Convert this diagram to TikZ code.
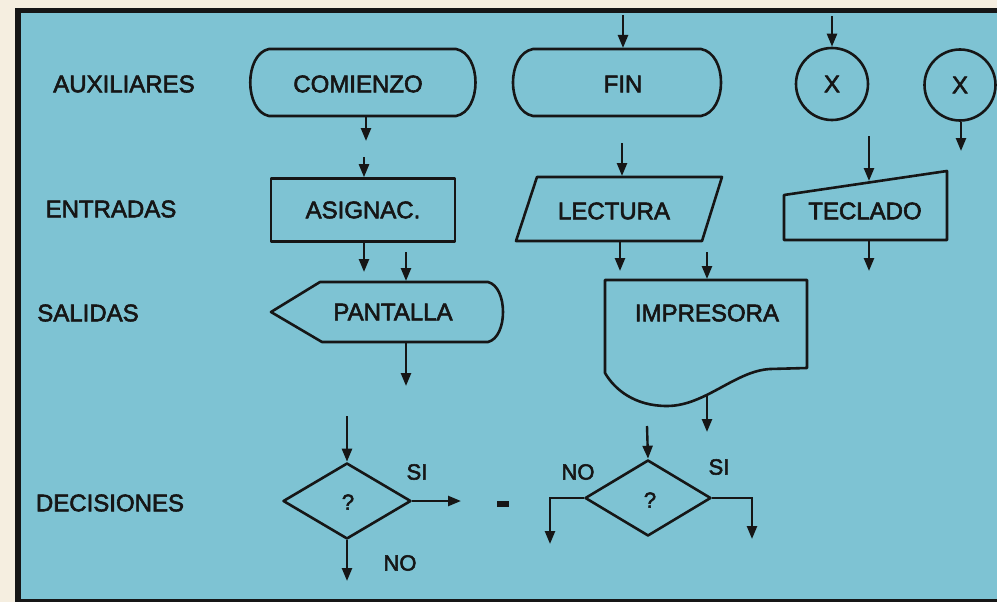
\documentclass[tikz,border=0pt]{standalone}
\usepackage{fontspec}
\setmainfont[FakeBold=2.5]{Liberation Sans}
\usetikzlibrary{arrows.meta,shapes.geometric}
\definecolor{panel}{RGB}{126,195,211}
\definecolor{paper}{RGB}{245,238,224}
\definecolor{ink}{RGB}{22,22,22}
\begin{document}
\begin{tikzpicture}[x=1pt,y=-1pt,
  shp/.style={draw=ink,line width=2.6pt,line join=round},
  lbl/.style={text=ink,font=\fontsize{24}{28}\selectfont,inner sep=0pt},
  sml/.style={text=ink,font=\fontsize{22}{26}\selectfont,inner sep=0pt},
  arr/.style={draw=ink,line width=2.4pt,-{Triangle[length=13pt,width=10pt]}},
]
\useasboundingbox (0,0) rectangle (997,602);
\fill[paper] (0,0) rectangle (997,602);
\fill[panel] (17,10) rectangle (997,601);
\fill[ink] (15,8) rectangle (21,602);
\fill[ink] (15,8) rectangle (997,13);
\fill[ink] (15,599) rectangle (997,602);

% row labels
\node[lbl] (aux) at (124,84) {AUXILIARES};
\node[lbl] (ent) at (111,209) {ENTRADAS};
\node[lbl] (sal) at (88,313) {SALIDAS};
\node[lbl] (dec) at (110,503) {DECISIONES};

% COMIENZO
\draw[shp] (269,49) -- (456,49) .. controls (482,54) and (482,111) .. (456,116)
  -- (269,116) .. controls (244,111) and (244,54) .. (269,49) -- cycle;
\node[lbl] (comienzo) at (358,84) {COMIENZO};
\coordinate (combot) at (366,117);
\coordinate (comend) at (366,141);
\draw[arr] (combot) -- (comend);

% FIN
\draw[shp] (533,49) -- (701,49) .. controls (727.7,54) and (727.7,111) .. (701,116)
  -- (533,116) .. controls (506.3,111) and (506.3,54) .. (533,49) -- cycle;
\node[lbl] (fin) at (623,84) {FIN};
\coordinate (finin) at (623,15);
\coordinate (fintop) at (623,48);
\draw[arr] (finin) -- (fintop);

% connectors X
\node[shp,circle,minimum size=72pt,inner sep=0pt,text=ink,font=\fontsize{24}{28}\selectfont] (x1) at (832,84) {X};
\coordinate (x1in) at (832,16);
\draw[arr] (x1in) -- (x1.north);
\node[shp,circle,minimum size=71pt,inner sep=0pt,text=ink,font=\fontsize{24}{28}\selectfont] (x2) at (960,85) {X};
\coordinate (x2out) at (961,151);
\draw[arr] (x2.south -| x2out) -- (x2out);

% ASIGNAC.
\node[shp,rectangle,minimum width=184pt,minimum height=63pt,inner sep=0pt,text=ink,font=\fontsize{24}{28}\selectfont] (asig) at (363,210) {ASIGNAC.};
\coordinate (asigin) at (364,157);
\draw[arr] (asigin) -- (asigin |- asig.north);
\coordinate (asigout) at (364,272);
\draw[arr] (asig.south -| asigout) -- (asigout);

% LECTURA
\draw[shp] (537,177) -- (722,177) -- (702,241) -- (516,241) -- cycle;
\node[lbl] (lect) at (614,211) {LECTURA};
\coordinate (lectin) at (622,143);
\coordinate (lecttop) at (622,176);
\draw[arr] (lectin) -- (lecttop);
\coordinate (lectbot) at (620,242);
\coordinate (lectout) at (620,271);
\draw[arr] (lectbot) -- (lectout);

% TECLADO
\draw[shp] (784,195) -- (947,171) -- (947,240) -- (784,240) -- cycle;
\node[lbl] (tecl) at (865,211) {TECLADO};
\coordinate (teclin) at (869,136);
\coordinate (tecltop) at (869,181);
\draw[arr] (teclin) -- (tecltop);
\coordinate (teclbot) at (869,241);
\coordinate (teclout) at (869,271);
\draw[arr] (teclbot) -- (teclout);

% PANTALLA
\draw[shp] (271,312) -- (320,282) -- (488,282) .. controls (508,287) and (508,337) .. (488,342)
  -- (322,342) -- cycle;
\node[lbl] (pant) at (393,312) {PANTALLA};
\coordinate (pantin) at (406,252);
\coordinate (panttop) at (406,281);
\draw[arr] (pantin) -- (panttop);
\coordinate (pantbot) at (406,343);
\coordinate (pantout) at (406,386);
\draw[arr] (pantbot) -- (pantout);

% IMPRESORA
\draw[shp] (605,280) -- (807,280) -- (807,368) -- (770,369)
  .. controls (735,371) and (705,406) .. (667,406)
  .. controls (635,406) and (615,390) .. (605,373) -- cycle;
\node[lbl] (impr) at (707,313) {IMPRESORA};
\coordinate (imprin) at (707,252);
\coordinate (imprtop) at (707,279);
\draw[arr] (imprin) -- (imprtop);
\coordinate (imprbot) at (707,396);
\coordinate (improut) at (707,432);
\draw[arr] (imprbot) -- (improut);

% decision 1
\node[shp,diamond,minimum width=128pt,minimum height=76pt,inner sep=0pt] (d1) at (347,501) {};
\node[sml] (q1) at (348,502) {?};
\coordinate (d1in) at (347,416);
\draw[arr] (d1in) -- (d1.north);
\coordinate (d1si) at (461,501);
\draw[arr] (d1.east) -- (d1si);
\coordinate (d1no) at (347,581);
\draw[arr] (d1.south) -- (d1no);
\node[sml] (si1) at (417,472) {SI};
\node[sml] (no1) at (400,563) {NO};

% equivalence mark
\fill[ink] (497,501) rectangle (509,507);

% decision 2
\node[shp,diamond,minimum width=126pt,minimum height=76pt,inner sep=0pt] (d2) at (648,498) {};
\node[sml] (q2) at (650,500) {?};
\coordinate (d2in) at (647,426);
\draw[arr] (d2in) -- (d2.north);
\coordinate (d2no) at (550,544);
\draw[arr] (d2.west) -| (d2no);
\coordinate (d2si) at (752,539);
\draw[arr] (d2.east) -| (d2si);
\node[sml] (no2) at (578,472) {NO};
\node[sml] (si2) at (719,467) {SI};
\end{tikzpicture}
\end{document}
